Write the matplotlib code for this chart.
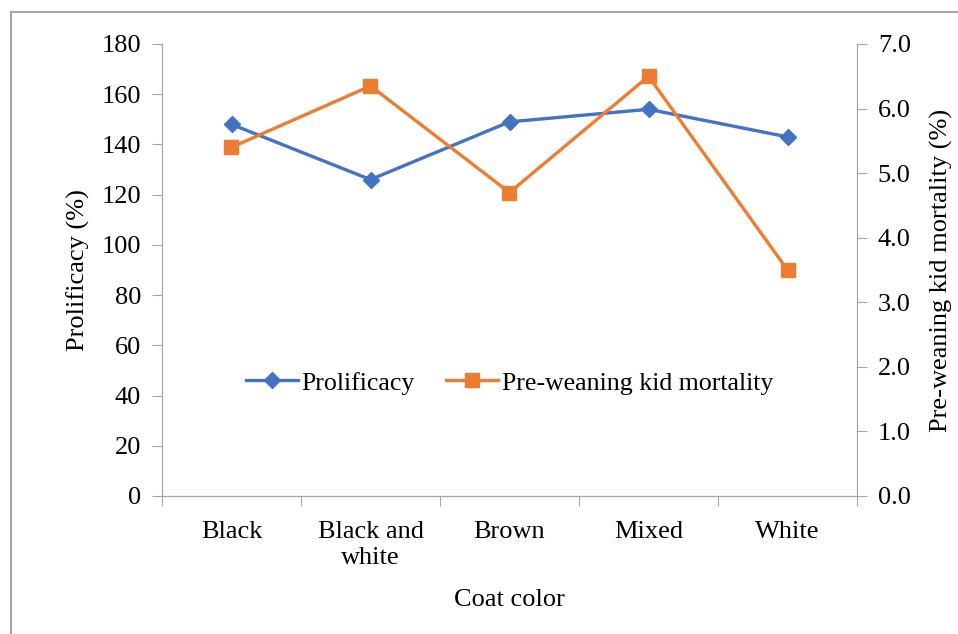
import matplotlib.pyplot as plt
from matplotlib.lines import Line2D

# data
coats = ["Black", "Black and\nwhite", "Brown", "Mixed", "White"]
prolificacy = [148, 126, 149, 154, 143]
mortality = [5.4, 6.35, 4.7, 6.5, 3.5]

blue = "#4472C4"
orange = "#ED7D31"
grey = "#A6A6A6"

plt.rcParams['font.family'] = ['Liberation Serif', 'DejaVu Serif']
plt.rcParams['font.size'] = 19

fig = plt.figure(figsize=(9.58, 6.34), dpi=100)
ax = fig.add_axes([162 / 958, 1 - 496 / 634, 695 / 958, 452 / 634])
ax2 = ax.twinx()

x = list(range(len(coats)))
l1, = ax.plot(x, prolificacy, color=blue, lw=2.4, marker="D", ms=8.5,
              label="Prolificacy")
l2, = ax2.plot(x, mortality, color=orange, lw=2.4, marker="s", ms=9.5,
               label="Pre-weaning kid mortality")

ax.set_xlim(-0.5, len(coats) - 0.5)
ax.set_ylim(0, 180)
ax.set_yticks(range(0, 181, 20))
ax2.set_ylim(0, 7)
ax2.set_yticks([i * 1.0 for i in range(8)])
ax2.set_yticklabels([f"{i:.1f}" for i in range(8)])

# category ticks sit between categories, labels on categories
ax.set_xticks([i - 0.5 for i in range(len(coats) + 1)])
ax.set_xticklabels([""] * (len(coats) + 1))
ax.set_xticks(x, minor=True)
ax.set_xticklabels(coats, minor=True, linespacing=1.25)
ax.tick_params(axis="x", which="minor", length=0, pad=18)
ax.tick_params(axis="x", which="major", length=7, color=grey)

for a in (ax, ax2):
    for s in a.spines.values():
        s.set_color(grey)
    a.spines["top"].set_visible(False)
    a.tick_params(axis="y", length=7, color=grey, pad=8)

ax.set_ylabel("Prolificacy (%)", labelpad=8)
ax2.set_ylabel("Pre-weaning kid mortality (%)", labelpad=14)
ax.set_xlabel("Coat color", labelpad=14)

ax.legend([l1, l2], [l1.get_label(), l2.get_label()], loc="center",
          bbox_to_anchor=(0.5, 0.25), ncol=2, frameon=False, fontsize=18.6,
          handlelength=2.0, handletextpad=0.15, columnspacing=1.2)

# outer chart border (only top and left are visible in the crop)
fig.add_artist(Line2D([11 / 958, 11 / 958], [0, 1 - 12 / 634],
                      transform=fig.transFigure, color=grey, lw=1.5))
fig.add_artist(Line2D([11 / 958, 1], [1 - 12 / 634, 1 - 12 / 634],
                      transform=fig.transFigure, color=grey, lw=1.5))

fig.savefig("out.png", dpi=100)
